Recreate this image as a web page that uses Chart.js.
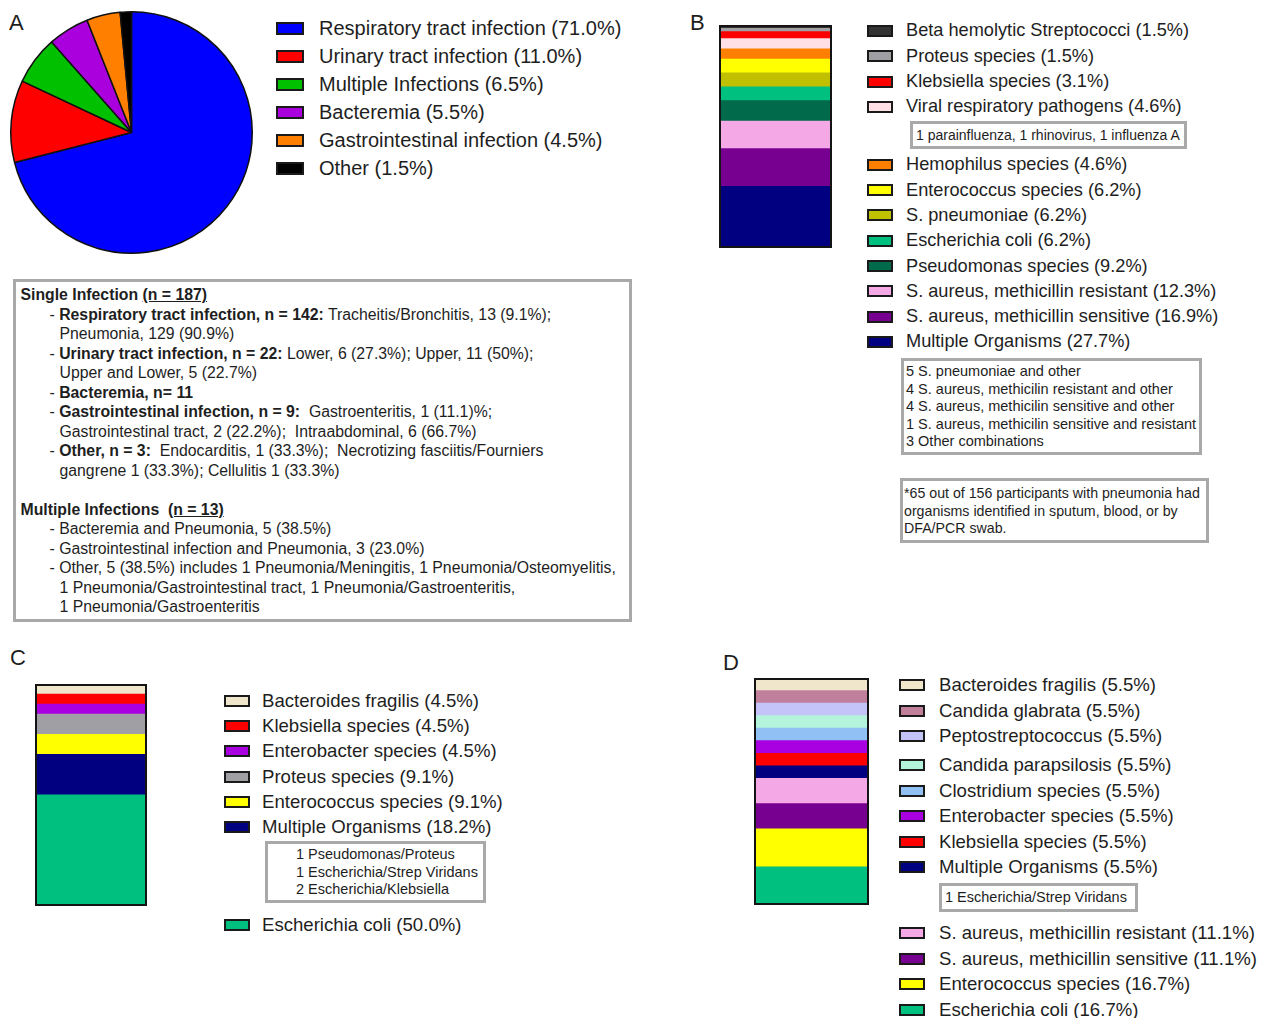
<!DOCTYPE html>
<html>
<head>
<meta charset="utf-8">
<script src="https://cdn.jsdelivr.net/npm/chart.js@4.4.1/dist/chart.umd.min.js"></script>
<style>
  body { margin: 0; background: #fff; font-family: "Liberation Sans", Arial, sans-serif; color: #1e1e1e; }
  #page { position: relative; width: 1265px; height: 1018px; overflow: hidden; }
  canvas { position: absolute; }
  .letter { position: absolute; font-size: 22px; line-height: 22px; }
  .legend { position: absolute; display: flex; flex-direction: column; white-space: nowrap; }
  .row { display: flex; align-items: center; }
  .sw { box-sizing: border-box; width: 26px; height: 12px; border: 2px solid #1a1a1a; flex: none; }
  #legA .sw { width: 28px; height: 13px; }
  #legA { font-size: 20px; } #legA .lt { margin-left: 15px; }
  #legB { font-size: 18.2px; } #legB .lt { margin-left: 13px; }
  #legC { font-size: 18.6px; } #legC .lt { margin-left: 12px; }
  #legD { font-size: 18.6px; } #legD .lt { margin-left: 14px; }
  .note { position: absolute; box-sizing: border-box; border: 3px solid #a9a9a9; font-size: 14.5px; line-height: 17.5px; white-space: nowrap; }
  #boxA { left: 13px; top: 279px; width: 619px; height: 343px; }
  #textA { position: absolute; left: 20.5px; top: 285.25px; font-size: 15.8px; line-height: 19.5px; white-space: pre; }
  #textA .b { padding-left: 29px; }
  #textA .c { padding-left: 39px; }
</style>
</head>
<body>
<div id="page">
  <div class="letter" style="left:9px;top:12px">A</div>
  <div class="letter" style="left:690px;top:12px">B</div>
  <div class="letter" style="left:10px;top:647px">C</div>
  <div class="letter" style="left:723px;top:652px">D</div>

  <canvas id="pieA" width="247" height="247" style="left:8px;top:9px"></canvas>
  <div class="legend" id="legA" style="left:276px;top:14px"></div>

  <div class="note" id="boxA"></div>
  <div id="textA"><div><b>Single Infection <u>(n = 187)</u></b></div><div class="b">- <b>Respiratory tract infection, n = 142:</b> Tracheitis/Bronchitis, 13 (9.1%);</div><div class="c">Pneumonia, 129 (90.9%)</div><div class="b">- <b>Urinary tract infection, n = 22:</b> Lower, 6 (27.3%); Upper, 11 (50%);</div><div class="c">Upper and Lower, 5 (22.7%)</div><div class="b">- <b>Bacteremia, n= 11</b></div><div class="b">- <b>Gastrointestinal infection, n = 9:</b>  Gastroenteritis, 1 (11.1)%;</div><div class="c">Gastrointestinal tract, 2 (22.2%);  Intraabdominal, 6 (66.7%)</div><div class="b">- <b>Other, n = 3:</b>  Endocarditis, 1 (33.3%);  Necrotizing fasciitis/Fourniers</div><div class="c">gangrene 1 (33.3%); Cellulitis 1 (33.3%)</div><div>&nbsp;</div><div><b>Multiple Infections  <u>(n = 13)</u></b></div><div class="b">- Bacteremia and Pneumonia, 5 (38.5%)</div><div class="b">- Gastrointestinal infection and Pneumonia, 3 (23.0%)</div><div class="b">- Other, 5 (38.5%) includes 1 Pneumonia/Meningitis, 1 Pneumonia/Osteomyelitis,</div><div class="c">1 Pneumonia/Gastrointestinal tract, 1 Pneumonia/Gastroenteritis,</div><div class="c">1 Pneumonia/Gastroenteritis</div></div>

  <canvas id="barB" width="113" height="223" style="left:719px;top:25px"></canvas>
  <div class="legend" id="legB" style="left:867px;top:18.35px"></div>
  <div class="note" style="left:910px;top:121px;width:277px;height:28px;line-height:22px;padding-left:3px;font-size:14px">1 parainfluenza, 1 rhinovirus, 1 influenza A</div>
  <div class="note" style="left:901px;top:358px;width:301px;height:97px;padding:2.25px 0 0 2px">5 S. pneumoniae and other<br>4 S. aureus, methicilin resistant and other<br>4 S. aureus, methicilin sensitive and other<br>1 S. aureus, methicilin sensitive and resistant<br>3 Other combinations</div>
  <div class="note" style="left:900px;top:478px;width:309px;height:65px;padding:4.25px 0 0 1px;font-size:14.2px">*65 out of 156 participants with pneumonia had<br>organisms identified in sputum, blood, or by<br>DFA/PCR swab.</div>

  <canvas id="barC" width="112" height="222" style="left:35px;top:684px"></canvas>
  <div class="legend" id="legC" style="left:224px;top:688.4px"></div>
  <div class="note" style="left:265px;top:841px;width:221px;height:62px;padding:2.25px 0 0 28px">1 Pseudomonas/Proteus<br>1 Escherichia/Strep Viridans<br>2 Escherichia/Klebsiella</div>

  <canvas id="barD" width="115" height="227" style="left:754px;top:678px"></canvas>
  <div class="legend" id="legD" style="left:899px;top:672.25px"></div>
  <div class="note" style="left:939px;top:883px;width:199px;height:29px;line-height:23px;padding-left:3px">1 Escherichia/Strep Viridans</div>
</div>

<script>
const pieLabels = ["Respiratory tract infection", "Urinary tract infection", "Multiple Infections", "Bacteremia", "Gastrointestinal infection", "Other"];
const pieValues = [71.0, 11.0, 6.5, 5.5, 4.5, 1.5];
const pieColors = ["#0000ff", "#ff0000", "#00c000", "#aa00dd", "#ff8000", "#000000"];

// B, C, D listed top of the bar first (same order as the legends)
const bLabels = ["Beta hemolytic Streptococci", "Proteus species", "Klebsiella species", "Viral respiratory pathogens", "Hemophilus species", "Enterococcus species", "S. pneumoniae", "Escherichia coli", "Pseudomonas species", "S. aureus, methicillin resistant", "S. aureus, methicillin sensitive", "Multiple Organisms"];
const bValues = [1.5, 1.5, 3.1, 4.6, 4.6, 6.2, 6.2, 6.2, 9.2, 12.3, 16.9, 27.7];
const bColors = ["#333333", "#a0a0a4", "#ff0000", "#ffe0e6", "#ff8000", "#ffff00", "#c0c000", "#00c080", "#006a4a", "#f5a8e6", "#780090", "#000080"];

const cLabels = ["Bacteroides fragilis", "Klebsiella species", "Enterobacter species", "Proteus species", "Enterococcus species", "Multiple Organisms", "Escherichia coli"];
const cValues = [4.5, 4.5, 4.5, 9.1, 9.1, 18.2, 50.0];
const cColors = ["#efe6cc", "#ff0000", "#a800e0", "#a0a0a4", "#ffff00", "#000080", "#00c080"];

const dLabels = ["Bacteroides fragilis", "Candida glabrata", "Peptostreptococcus", "Candida parapsilosis", "Clostridium species", "Enterobacter species", "Klebsiella species", "Multiple Organisms", "S. aureus, methicillin resistant", "S. aureus, methicillin sensitive", "Enterococcus species", "Escherichia coli"];
const dValues = [5.5, 5.5, 5.5, 5.5, 5.5, 5.5, 5.5, 5.5, 11.1, 11.1, 16.7, 16.7];
const dColors = ["#efe6cc", "#c0809c", "#c4c4f8", "#b4f4dc", "#90c0f4", "#a800e0", "#ff0000", "#000080", "#f5a8e6", "#780090", "#ffff00", "#00c080"];

function buildLegend(id, labels, values, colors, rowH, gaps) {
  const el = document.getElementById(id);
  labels.forEach((lab, i) => {
    const row = document.createElement("div");
    row.className = "row";
    row.style.height = rowH + "px";
    if (gaps[i]) row.style.marginTop = gaps[i] + "px";
    const sw = document.createElement("span");
    sw.className = "sw";
    sw.style.background = colors[i];
    const t = document.createElement("span");
    t.className = "lt";
    t.textContent = lab + " (" + values[i].toFixed(1) + "%)";
    row.append(sw, t);
    el.appendChild(row);
  });
}

buildLegend("legA", pieLabels, pieValues, pieColors, 28, {});
buildLegend("legB", bLabels, bValues, bColors, 25.3, { 4: 32.7 });
buildLegend("legC", cLabels, cValues, cColors, 25.2, { 6: 72.8 });
buildLegend("legD", dLabels, dValues, dColors, 25.5, { 3: 3.5, 8: 40.5 });

new Chart("pieA", {
  type: "pie",
  data: {
    labels: pieLabels,
    datasets: [{ data: pieValues, backgroundColor: pieColors, borderColor: "#111", borderWidth: 1.5 }],
  },
  options: {
    responsive: false,
    animation: false,
    layout: { padding: 2 },
    plugins: { legend: { display: false }, tooltip: { enabled: false } },
  },
});

// black frame round the stacked column
const outline = {
  id: "outline",
  afterDatasetsDraw(chart) {
    const { ctx, chartArea: a } = chart;
    ctx.save();
    ctx.strokeStyle = "#141414";
    ctx.lineWidth = 2;
    ctx.strokeRect(a.left + 1, a.top + 1, a.right - a.left - 2, a.bottom - a.top - 2);
    ctx.restore();
  },
};

function stackBar(id, labels, values, colors) {
  // first dataset sits at the bottom, so reverse the top-first lists
  const datasets = labels
    .map((l, i) => ({ label: l, data: [values[i]], backgroundColor: colors[i], borderWidth: 0 }))
    .reverse();
  const total = values.reduce((s, v) => s + v, 0);
  new Chart(id, {
    type: "bar",
    data: { labels: [""], datasets: datasets },
    options: {
      responsive: false,
      animation: false,
      layout: { padding: 0 },
      datasets: { bar: { barPercentage: 1, categoryPercentage: 1 } },
      plugins: { legend: { display: false }, tooltip: { enabled: false } },
      scales: {
        x: { display: false, stacked: true },
        y: { display: false, stacked: true, min: 0, max: total },
      },
    },
    plugins: [outline],
  });
}

stackBar("barB", bLabels, bValues, bColors);
stackBar("barC", cLabels, cValues, cColors);
stackBar("barD", dLabels, dValues, dColors);
</script>
</body>
</html>
